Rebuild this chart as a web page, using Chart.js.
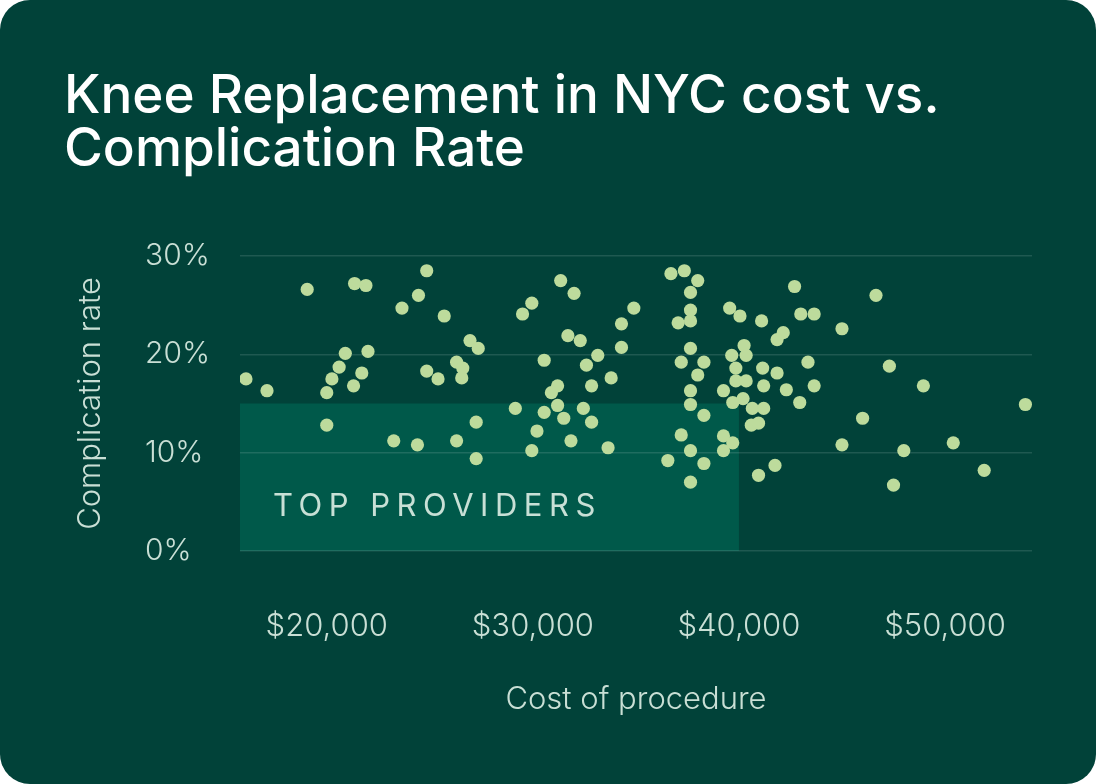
<!DOCTYPE html>
<html>
<head>
<meta charset="utf-8">
<script src="https://cdn.jsdelivr.net/npm/chart.js@4.4.1/dist/chart.umd.min.js"></script>
<style>
  html, body { margin: 0; padding: 0; background: #ffffff; }
  .card {
    width: 1096px;
    height: 784px;
    background: #014239;
    border-radius: 30px;
    overflow: hidden;
    position: relative;
  }
</style>
</head>
<body>
<div class="card">
  <canvas id="kneeChart"></canvas>
</div>
<script>
// Cost of procedure (USD) and complication rate (%) for each provider
const costs = [
  16080, 17100, 19050, 21350, 21900, 24850, 24450, 23650, 25700, 20900,
  22000, 20600, 20250, 20000, 21700, 21300, 24850, 25400, 20000, 23250,
  24400, 31350, 32000, 34900, 29950, 29500, 34300, 31700, 32300, 26950,
  27350, 34300, 33150, 32600, 30550, 26300, 26600, 26550, 33800, 31200,
  30900, 32850, 29150, 31200, 30550, 32450, 31500, 32850, 27250, 30200,
  26300, 31850, 29950, 33650, 27250, 36700, 37350, 38000, 37650, 37650,
  37050, 37650, 39550, 40050, 42700, 41100, 43000, 43650, 45000, 42150,
  41850, 40250, 37650, 39650, 40350, 37200, 38300, 43350, 39850, 41150,
  38000, 41850, 39850, 40350, 41200, 43650, 42300, 39250, 37650, 40200,
  39700, 42950, 37650, 40650, 41200, 38300, 40600, 40950, 37200, 39250,
  39700, 37650, 39250, 36550, 38300, 41750, 40950, 37650, 46650, 47300,
  48950, 53900, 46000, 45000, 48000, 50400, 51900, 47500
];
const complicationRates = [
  17.5, 16.3, 26.6, 27.2, 27.0, 28.5, 26.0, 24.7, 23.9, 20.1,
  20.3, 18.7, 17.5, 16.1, 18.1, 16.8, 18.3, 17.5, 12.8, 11.2,
  10.8, 27.5, 26.2, 24.7, 25.2, 24.1, 23.1, 21.9, 21.4, 21.4,
  20.6, 20.7, 19.9, 18.9, 19.4, 19.2, 18.6, 17.6, 17.6, 16.8,
  16.1, 16.8, 14.5, 14.8, 14.1, 14.5, 13.5, 13.1, 13.1, 12.2,
  11.2, 11.2, 10.2, 10.5, 9.4, 28.2, 28.5, 27.5, 26.3, 24.5,
  23.2, 23.4, 24.7, 23.9, 26.9, 23.4, 24.1, 24.1, 22.6, 22.2,
  21.5, 20.9, 20.6, 19.9, 19.9, 19.2, 19.2, 19.2, 18.6, 18.6,
  17.9, 18.1, 17.3, 17.3, 16.8, 16.8, 16.4, 16.3, 16.3, 15.5,
  15.1, 15.1, 14.9, 14.5, 14.5, 13.8, 12.8, 13.0, 11.8, 11.7,
  11.0, 10.2, 10.2, 9.2, 8.9, 8.7, 7.7, 7.0, 26.0, 18.8,
  16.8, 14.9, 13.5, 10.8, 10.2, 11.0, 8.2, 6.7
];

const costTicks = [20000, 30000, 40000, 50000];
const rateTicks = [0, 10, 20, 30];
const costRange = [15790, 54220];
const rateRange = [0, 30];

// "Top providers" region: cost up to $40,000 and rate up to 15%
const topProviders = { label: 'TOP PROVIDERS', maxCost: 40000, maxRate: 15 };

const points = costs.map((c, i) => ({ x: c, y: complicationRates[i] }));

const FONT = 'Inter, "Noto Sans", sans-serif';
const LABEL_COLOR = '#c9dfd5';

// shaded region behind the grid and the points
const topProvidersBox = {
  id: 'topProvidersBox',
  beforeDraw(chart) {
    const { ctx, scales: { x, y } } = chart;
    const left = x.getPixelForValue(x.min);
    const right = x.getPixelForValue(topProviders.maxCost);
    const top = y.getPixelForValue(topProviders.maxRate);
    const bottom = y.getPixelForValue(0);
    ctx.save();
    ctx.fillStyle = '#00594a';
    ctx.fillRect(left, top, right - left, bottom - top);
    ctx.fillStyle = '#c8e0d6';
    ctx.font = '400 31px ' + FONT;
    ctx.letterSpacing = '6.5px';
    ctx.textBaseline = 'alphabetic';
    ctx.fillText(topProviders.label, left + 33, bottom - 35);
    ctx.restore();
  }
};

const ctx = document.getElementById('kneeChart').getContext('2d');

new Chart(ctx, {
  type: 'scatter',
  data: {
    datasets: [{
      label: 'Providers',
      data: points,
      backgroundColor: '#bddb9c',
      borderWidth: 0,
      pointRadius: 6.6,
      pointHoverRadius: 6.6
    }]
  },
  options: {
    responsive: true,
    maintainAspectRatio: false,
    animation: false,
    layout: {
      padding: { left: 64, right: 64, top: 0, bottom: 0 }
    },
    plugins: {
      legend: { display: false },
      tooltip: { enabled: false },
      title: {
        display: true,
        text: ['Knee Replacement in NYC cost vs.', 'Complication Rate'],
        align: 'start',
        color: '#ffffff',
        font: { family: FONT, size: 53, weight: '500', lineHeight: 1.0 },
        padding: { top: 71, bottom: 79 }
      }
    },
    scales: {
      x: {
        type: 'linear',
        min: costRange[0],
        max: costRange[1],
        afterBuildTicks(scale) {
          scale.ticks = costTicks.map(v => ({ value: v }));
        },
        afterFit(scale) { scale.height = 233; },
        grid: { display: false, drawTicks: false },
        border: { display: false },
        ticks: {
          color: LABEL_COLOR,
          padding: 57,
          maxRotation: 0,
          font: { family: FONT, size: 31, weight: '300' },
          callback: v => '$' + v.toLocaleString('en-US')
        },
        title: {
          display: true,
          text: 'Cost of procedure',
          color: LABEL_COLOR,
          font: { family: FONT, size: 31, weight: '300' },
          padding: { top: 0, bottom: 66 }
        }
      },
      y: {
        type: 'linear',
        position: 'left',
        weight: 0,
        min: rateRange[0],
        max: rateRange[1],
        afterBuildTicks(scale) {
          scale.ticks = rateTicks.map(v => ({ value: v }));
        },
        afterFit(scale) { scale.width = 95; },
        grid: {
          color: 'rgba(255,255,255,0.12)',
          lineWidth: 1.5,
          drawTicks: false
        },
        border: { display: false },
        ticks: {
          color: LABEL_COLOR,
          crossAlign: 'far',
          padding: 0,
          font: { family: FONT, size: 30, weight: '300' },
          callback: v => v + '%'
        }
      },
      yTitle: {
        type: 'linear',
        position: 'left',
        weight: 1,
        afterFit(scale) { scale.width = 81; },
        grid: { display: false, drawTicks: false },
        border: { display: false },
        ticks: { display: false },
        title: {
          display: true,
          text: 'Complication rate',
          color: LABEL_COLOR,
          font: { family: FONT, size: 31, weight: '300' },
          padding: { top: 8, bottom: 0 }
        }
      }
    }
  },
  plugins: [topProvidersBox]
});
</script>
</body>
</html>
